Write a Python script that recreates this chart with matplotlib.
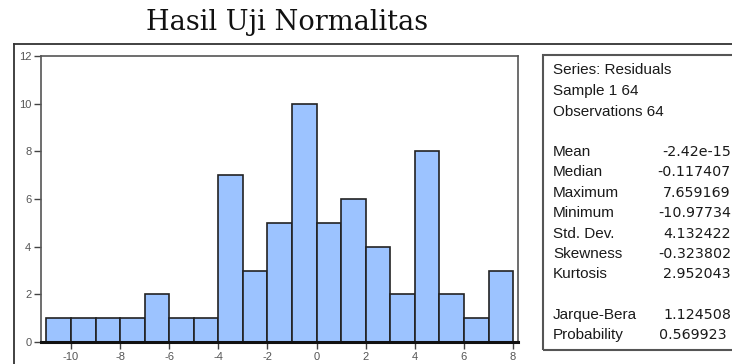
import numpy as np
import matplotlib.pyplot as plt
from matplotlib.patches import Rectangle
from matplotlib.lines import Line2D

plt.rcParams["axes.unicode_minus"] = False

# residual histogram (bin width 1, from -11 to 8)
bin_left = [-11, -10, -9, -8, -7, -6, -5, -4, -3, -2, -1, 0, 1, 2, 3, 4, 5, 6, 7]
counts = [1, 1, 1, 1, 2, 1, 1, 7, 3, 5, 10, 5, 6, 4, 2, 8, 2, 1, 3]

x_ticks = [-10, -8, -6, -4, -2, 0, 2, 4, 6, 8]
y_ticks = [0, 2, 4, 6, 8, 10, 12]

head_lines = ["Series: Residuals", "Sample 1 64", "Observations 64"]
stat_names = ["Mean", "Median", "Maximum", "Minimum", "Std. Dev.", "Skewness", "Kurtosis"]
stat_values = ["-2.42e-15", "-0.117407", "7.659169", "-10.97734", "4.132422", "-0.323802", "2.952043"]
test_names = ["Jarque-Bera", "Probability"]
test_values = ["1.124508", "0.569923"]

W, H = 732, 364
fig = plt.figure(figsize=(W / 100, H / 100), dpi=100)

def fx(px):
    return px / W

def fy(py):
    return 1 - py / H

# title and outer frame
fig.text(fx(287), fy(23), "Hasil Uji Normalitas", family="DejaVu Serif",
         fontsize=19.5, ha="center", va="center", color="#111111")
fig.add_artist(Line2D([fx(14), fx(732)], [fy(44), fy(44)], color="#333333", lw=1.3))
fig.add_artist(Line2D([fx(14), fx(14)], [fy(44), fy(364)], color="#333333", lw=1.3))

# histogram
ax = fig.add_axes([fx(41), fy(342), fx(518) - fx(41), fy(56) - fy(342)])
ax.bar(bin_left, counts, width=1, align="edge", color="#9CC3FF",
       edgecolor="#222222", linewidth=1.2, zorder=2)
ax.set_xlim(-11.22, 8.2)
ax.set_ylim(0, 12)
ax.set_xticks(x_ticks)
ax.set_yticks(y_ticks)
for s in ["left", "top", "right"]:
    ax.spines[s].set_color("#555555")
    ax.spines[s].set_linewidth(1.2)
ax.spines["bottom"].set_color("#111111")
ax.spines["bottom"].set_linewidth(2.2)
ax.spines["bottom"].set_zorder(3)
ax.tick_params(axis="both", direction="out", length=5, width=1, color="#444444",
               labelsize=8, labelcolor="#555555", pad=2)
for lab in ax.get_xticklabels() + ax.get_yticklabels():
    lab.set_family("Liberation Sans")

# statistics box
fig.add_artist(Rectangle((fx(543), fy(350)), fx(745) - fx(543), fy(55) - fy(350),
                         fill=False, edgecolor="#555555", lw=1.5))
txt = dict(family="Liberation Sans", fontsize=11, color="#1a1a1a", va="center")
val = dict(family="DejaVu Sans", fontsize=10.3, color="#1a1a1a", va="center", ha="right")
row_y = [70, 91, 112]
for y, s in zip(row_y, head_lines):
    fig.text(fx(553), fy(y), s, **txt)
for i, (n, v) in enumerate(zip(stat_names, stat_values)):
    y = 152 + i * 20.4
    fig.text(fx(553), fy(y), n, **txt)
    fig.text(fx(731), fy(y), v, **val)
for i, (n, v) in enumerate(zip(test_names, test_values)):
    y = 315 + i * 20.4
    fig.text(fx(553), fy(y), n, **txt)
    fig.text(fx(731 if i == 0 else 727), fy(y), v, **val)

fig.savefig("out.png", dpi=100)
